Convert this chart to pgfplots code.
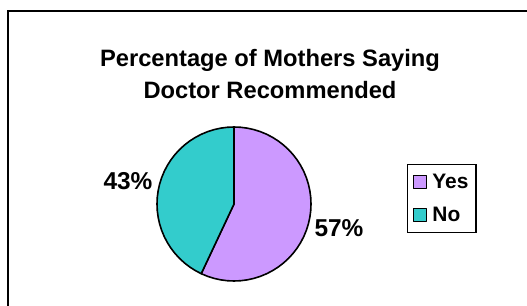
\documentclass[border=0pt]{standalone}
\usepackage{pgfplots}
\pgfplotsset{compat=1.18}
\usepackage{fontspec}
\setmainfont{Liberation Sans}
\definecolor{yescol}{HTML}{CC99FF}
\definecolor{nocol}{HTML}{33CCCC}
\begin{document}
\begin{tikzpicture}
\useasboundingbox (0,0) rectangle (527bp,306bp);
\clip (0,0) rectangle (527bp,306bp);
\fill[white] (0,0) rectangle (527bp,306bp);
\begin{axis}[
  at={(0,0)}, anchor=south west,
  scale only axis, width=527bp, height=306bp,
  xmin=-234, xmax=293, ymin=-102, ymax=204,
  hide axis, clip=false,
  legend cell align=left,
  legend image code/.code={\draw[#1,draw=black,line width=1.2bp] (0bp,-6.5bp) rectangle (13bp,6.5bp);},
  legend style={at={(axis cs:173,40)}, anchor=north west, draw=black, line width=1.4bp,
    font=\bfseries\fontsize{21}{25}\selectfont, inner xsep=5bp, inner ysep=7bp, row sep=12bp,
    column sep=3bp, nodes={inner sep=2.5bp}},
]
% outer frame
\draw[black, line width=1.2bp] (axis cs:-226,193) rectangle (axis cs:310,-120);
% Yes: 57%  (90 - 0.57*360 = -115.2)
\addplot[fill=yescol, draw=black, line width=1.6bp, line join=round, data cs=polar] coordinates {
(0,0) (90,77) (85,77) (80,77) (75,77) (70,77) (65,77) (60,77) (55,77) (50,77) (45,77)
(40,77) (35,77) (30,77) (25,77) (20,77) (15,77) (10,77) (5,77) (0,77) (-5,77)
(-10,77) (-15,77) (-20,77) (-25,77) (-30,77) (-35,77) (-40,77) (-45,77) (-50,77) (-55,77)
(-60,77) (-65,77) (-70,77) (-75,77) (-80,77) (-85,77) (-90,77) (-95,77) (-100,77) (-105,77)
(-110,77) (-115,77) (-115.2,77)} -- cycle;
\addlegendentry{Yes\hspace{7bp}}
% No: 43%
\addplot[fill=nocol, draw=black, line width=1.6bp, line join=round, data cs=polar] coordinates {
(0,0) (-115.2,77) (-120,77) (-125,77) (-130,77) (-135,77) (-140,77) (-145,77) (-150,77) (-155,77)
(-160,77) (-165,77) (-170,77) (-175,77) (-180,77) (-185,77) (-190,77) (-195,77) (-200,77)
(-205,77) (-210,77) (-215,77) (-220,77) (-225,77) (-230,77) (-235,77) (-240,77) (-245,77)
(-250,77) (-255,77) (-260,77) (-265,77) (-270,77)} -- cycle;
\addlegendentry{No}
\node[anchor=base, font=\bfseries\fontsize{23.8}{28}\selectfont] at (axis cs:36,137) {Percentage of Mothers Saying};
\node[anchor=base, font=\bfseries\fontsize{23.8}{28}\selectfont] at (axis cs:36,105.5) {Doctor Recommended};
\node[anchor=base, font=\bfseries\fontsize{24.5}{28}\selectfont] at (axis cs:-106,14) {43\%};
\node[anchor=base, font=\bfseries\fontsize{24.5}{28}\selectfont] at (axis cs:105,-33) {57\%};
\end{axis}
\end{tikzpicture}
\end{document}
